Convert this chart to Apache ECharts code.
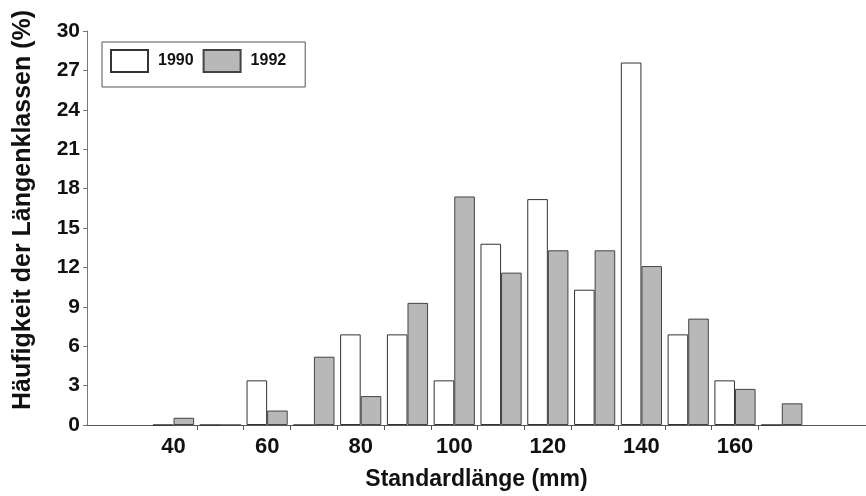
<!DOCTYPE html>
<html>
<head>
<meta charset="utf-8">
<script src="https://cdn.jsdelivr.net/npm/echarts@6/dist/echarts.min.js"></script>
<style>
  html, body { margin: 0; padding: 0; background: #fff; }
  #chart { width: 866px; height: 496px; }
</style>
</head>
<body>
<div id="chart"></div>
<script>
// Length classes (mm), centre of each 10 mm class
const lengthClasses = [40, 50, 60, 70, 80, 90, 100, 110, 120, 130, 140, 150, 160, 170];
// Share of each length class (%)
const share1990 = [0, 0, 3.4, 0, 6.9, 6.9, 3.4, 13.8, 17.2, 10.3, 27.6, 6.9, 3.4, 0];
const share1992 = [0.55, 0, 1.1, 5.2, 2.2, 9.3, 17.4, 11.6, 13.3, 13.3, 12.1, 8.1, 2.75, 1.65];
// Axis labels and class boundaries
const xLabels = [40, 60, 80, 100, 120, 140, 160];
const xBoundaries = [45, 55, 65, 75, 85, 95, 105, 115, 125, 135, 145, 155, 165];

const FONT = '"Liberation Sans", Arial, sans-serif';
const pairs = (vals) => lengthClasses.map((x, i) => [x, vals[i]]);

const chart = echarts.init(document.getElementById('chart'), null, { renderer: 'canvas' });
chart.setOption({
  animation: false,
  backgroundColor: '#fff',
  textStyle: { fontFamily: FONT },
  grid: { left: 87, right: 0, top: 31, bottom: 69, containLabel: false },
  legend: {
    left: 102, top: 42,
    padding: [7, 19, 14, 8],
    itemWidth: 37, itemHeight: 22, itemGap: 9,
    borderColor: '#555', borderWidth: 1,
    icon: 'rect',
    textStyle: { fontFamily: FONT, fontWeight: 'bold', fontSize: 16, color: '#111', padding: [0, 0, 0, 5] },
    data: ['1990', '1992']
  },
  xAxis: [{
    type: 'value',
    min: 21.5, max: 188,
    name: 'Standardlänge (mm)',
    nameLocation: 'middle',
    nameGap: 43,
    nameTextStyle: { fontFamily: FONT, fontWeight: 'bold', fontSize: 23, color: '#111' },
    axisLine: { show: true, onZero: false, lineStyle: { color: '#333', width: 1 } },
    axisTick: { show: true, length: 5, inside: false, customValues: xBoundaries, lineStyle: { color: '#555' } },
    axisLabel: { customValues: xLabels, margin: 11, fontFamily: FONT, fontWeight: 'bold', fontSize: 22, color: '#111' },
    splitLine: { show: false }
  }, {
    type: 'value',
    position: 'top',
    min: 21.5, max: 188,
    axisLine: { show: true, lineStyle: { color: '#555', width: 1 } },
    axisTick: { show: false },
    axisLabel: { show: false },
    splitLine: { show: false }
  }],
  yAxis: {
    type: 'value',
    min: 0, max: 30, interval: 3,
    name: 'Häufigkeit der Längenklassen (%)',
    nameLocation: 'middle',
    nameGap: 51,
    nameTextStyle: { fontFamily: FONT, fontWeight: 'bold', fontSize: 25, color: '#111', padding: [0, 0, 0, 36] },
    axisLine: { show: true, lineStyle: { color: '#777', width: 1 } },
    axisTick: { show: true, length: 4, lineStyle: { color: '#777' } },
    axisLabel: { margin: 7, fontFamily: FONT, fontWeight: 'bold', fontSize: 21, color: '#111' },
    splitLine: { show: false }
  },
  series: [{
    name: '1990',
    type: 'bar',
    xAxisIndex: 0,
    data: pairs(share1990),
    barGap: '0%',
    barCategoryGap: '12%',
    itemStyle: { color: '#fff', borderColor: '#333', borderWidth: 1 }
  }, {
    name: '1992',
    type: 'bar',
    xAxisIndex: 0,
    data: pairs(share1992),
    barGap: '0%',
    barCategoryGap: '12%',
    itemStyle: { color: '#b8b8b8', borderColor: '#444', borderWidth: 1 }
  }]
});
</script>
</body>
</html>
